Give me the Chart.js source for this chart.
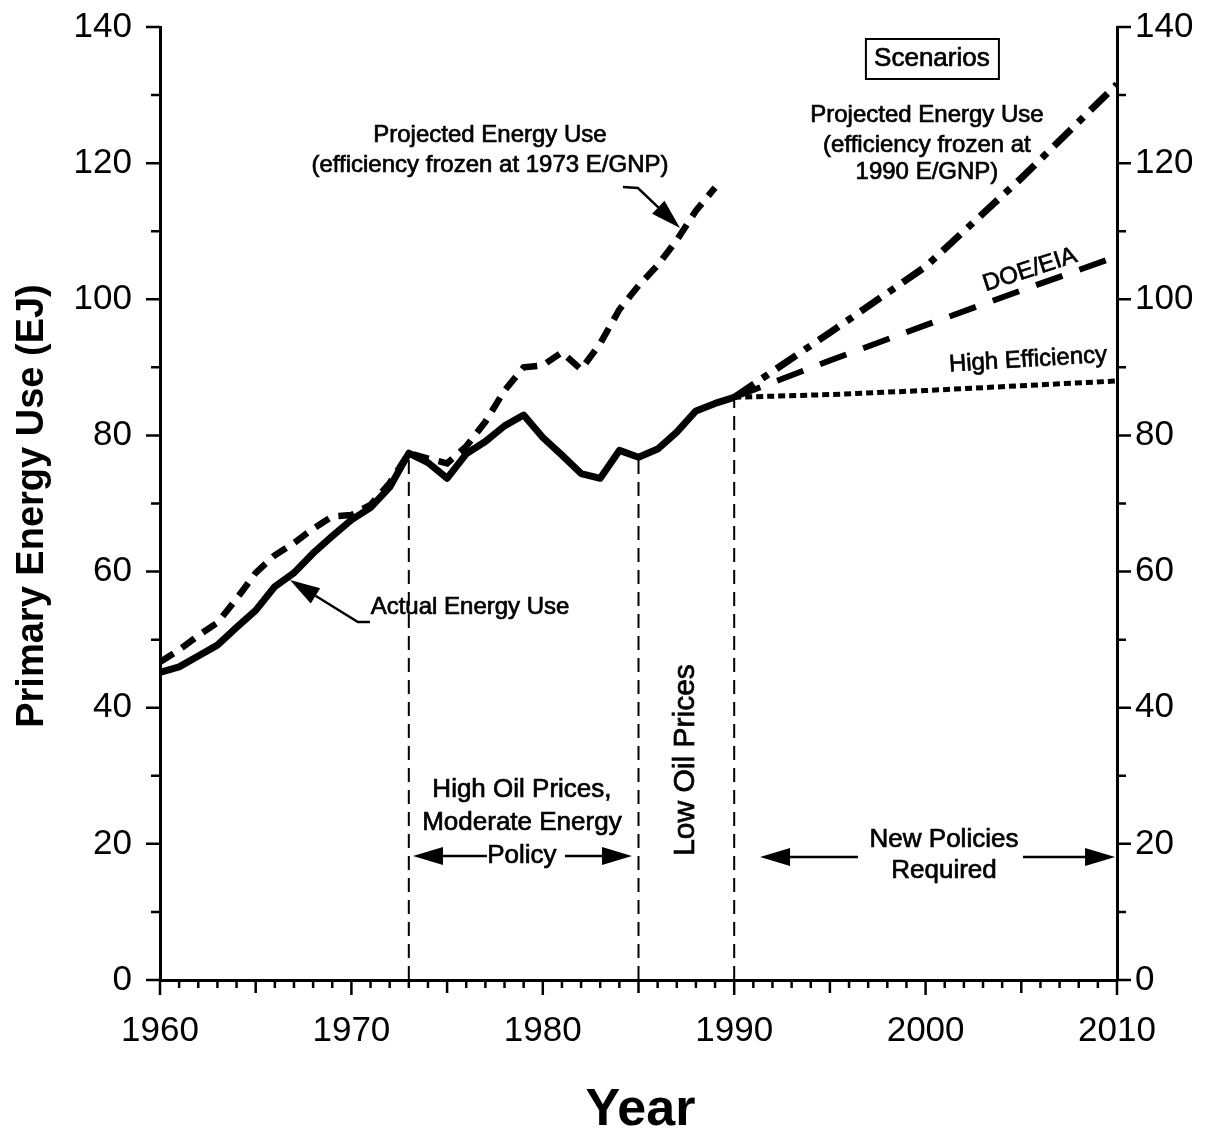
<!DOCTYPE html>
<html>
<head>
<meta charset="utf-8">
<script src="https://cdn.jsdelivr.net/npm/chart.js@4.4.1/dist/chart.umd.min.js"></script>
<style>
  html, body { margin: 0; padding: 0; background: #fff; }
  #wrap { width: 1222px; height: 1132px; position: relative; }
</style>
</head>
<body>
<div id="wrap"><canvas id="chart"></canvas></div>
<script>
// values (EJ)
const actualYears = [1960, 1961, 1962, 1963, 1964, 1965, 1966, 1967, 1968, 1969, 1970,
  1971, 1972, 1973, 1974, 1975, 1976, 1977, 1978, 1979, 1980,
  1981, 1982, 1983, 1984, 1985, 1986, 1987, 1988, 1989, 1990];
const actualUse = [45.2, 46.0, 47.6, 49.2, 51.8, 54.3, 57.8, 59.8, 62.7, 65.2, 67.6,
  69.4, 72.4, 77.4, 76.0, 73.7, 77.3, 79.1, 81.4, 83.0, 79.7,
  77.1, 74.4, 73.7, 77.8, 76.8, 78.0, 80.5, 83.6, 84.7, 85.6];

const frozen1973Years = [1960, 1961, 1962, 1963, 1964, 1965, 1966, 1967, 1968, 1969, 1970,
  1971, 1972, 1973, 1974, 1975, 1976, 1977, 1978, 1979, 1980,
  1981, 1982, 1983, 1984, 1985, 1986, 1987, 1988, 1989];
const frozen1973Use = [46.7, 48.5, 50.6, 52.5, 56.0, 59.8, 62.4, 64.2, 66.3, 68.1, 68.3,
  69.8, 73.0, 77.4, 76.6, 75.9, 78.4, 82.0, 86.6, 90.0, 90.3,
  92.2, 89.7, 93.5, 98.5, 102.0, 105.0, 108.7, 113.0, 116.4];

const scenarioYears = [1990, 1995, 2000, 2005, 2010];
const frozen1990Use = [85.6, 95.1, 104.8, 117.8, 131.6];
const doeEiaUse = [85.6, 91.0, 96.2, 101.3, 106.3];
const highEffUse = [85.6, 86.0, 86.6, 87.3, 88.0];

const periodYears = [1973, 1985, 1990];
const periodTops = [77.4, 76.8, 85.6];

const xTicks = [1960, 1970, 1980, 1990, 2000, 2010];
const yTicks = [0, 20, 40, 60, 80, 100, 120, 140];

const FONT = "'Liberation Sans', Arial, Helvetica, sans-serif";

function pts(xs, ys) {
  return xs.map((x, i) => ({ x: x, y: ys[i] }));
}

const datasets = [
  { label: 'Actual', data: pts(actualYears, actualUse), borderWidth: 7, borderJoinStyle: 'round' },
  { label: 'Frozen 1973', data: pts(frozen1973Years, frozen1973Use), borderWidth: 6.5, borderDash: [16, 10] },
  { label: 'Frozen 1990', data: pts(scenarioYears, frozen1990Use), borderWidth: 7, borderDash: [24, 10, 7, 10] },
  { label: 'DOE/EIA', data: pts(scenarioYears, doeEiaUse), borderWidth: 6, borderDash: [28, 18] },
  { label: 'High Efficiency', data: pts(scenarioYears, highEffUse), borderWidth: 5, borderDash: [7, 4] }
];
periodYears.forEach((yr, i) => {
  datasets.push({ label: 'period ' + yr, data: [{ x: yr, y: 0 }, { x: yr, y: periodTops[i] }],
    borderWidth: 2, borderDash: [14, 8] });
});
datasets.forEach(d => {
  d.borderColor = '#000';
  d.pointRadius = 0;
  d.tension = 0;
  d.fill = false;
  d.borderCapStyle = 'butt';
});

// text notes in data units
const notes = [
  { text: 'Projected Energy Use', x: 1977.24, y: 124.1, size: 24 },
  { text: '(efficiency frozen at 1973 E/GNP)', x: 1977.24, y: 119.7, size: 24 },
  { text: 'Projected Energy Use', x: 2000.07, y: 127.07, size: 24 },
  { text: '(efficiency frozen at', x: 2000.07, y: 122.67, size: 24 },
  { text: '1990 E/GNP)', x: 2000.07, y: 118.7, size: 24 },
  { text: 'Actual Energy Use', x: 1976.2, y: 54.8, size: 24 },
  { text: 'DOE/EIA', x: 2005.45, y: 104.3, size: 24, rot: -18 },
  { text: 'High Efficiency', x: 2005.35, y: 91.08, size: 24, rot: -3.5 },
  { text: 'High Oil Prices,', x: 1978.91, y: 27.91, size: 26 },
  { text: 'Moderate Energy', x: 1978.91, y: 23.06, size: 26 },
  { text: 'Policy', x: 1978.91, y: 18.22, size: 26 },
  { text: 'Low Oil Prices', x: 1987.48, y: 32.32, size: 30, rot: -90 },
  { text: 'New Policies', x: 2000.96, y: 20.57, size: 26 },
  { text: 'Required', x: 2000.96, y: 16.01, size: 26 }
];

const arrows = [
  [[1984.19, 116.5], [1984.97, 116.35], [1987.17, 110.47]],
  [[1970.97, 52.59], [1970.34, 52.59], [1966.79, 58.76]],
  [[1977.08, 18.22], [1973.22, 18.22]],
  [[1981.16, 18.22], [1984.66, 18.22]],
  [[1996.47, 18.07], [1991.35, 18.07]],
  [[2005.09, 18.07], [2009.9, 18.07]]
];

const decorPlugin = {
  id: 'decor',
  afterDraw(chart) {
    const ctx = chart.ctx;
    const xs = chart.scales.x;
    const ys = chart.scales.y;
    const area = chart.chartArea;
    ctx.save();
    ctx.strokeStyle = '#000';
    ctx.fillStyle = '#000';

    // tick marks: every year on x, every 10 on y
    ctx.lineWidth = 2.5;
    ctx.beginPath();
    for (let yr = 1960; yr <= 2010; yr++) {
      const px = xs.getPixelForValue(yr);
      const len = yr % 10 === 0 ? 15 : (yr % 5 === 0 ? 13 : 8);
      ctx.moveTo(px, area.bottom);
      ctx.lineTo(px, area.bottom + len);
    }
    for (let v = 0; v <= 140; v += 10) {
      const py = ys.getPixelForValue(v);
      const len = v % 20 === 0 ? 14 : 9;
      ctx.moveTo(area.left, py);
      ctx.lineTo(area.left - len, py);
      ctx.moveTo(area.right, py);
      ctx.lineTo(area.right + len, py);
    }
    ctx.stroke();

    // notes (thin stroke gives the heavier look of the printed text)
    ctx.textAlign = 'center';
    ctx.textBaseline = 'middle';
    ctx.lineWidth = 0.7;
    notes.forEach(n => {
      ctx.save();
      ctx.translate(xs.getPixelForValue(n.x), ys.getPixelForValue(n.y));
      if (n.rot) ctx.rotate(n.rot * Math.PI / 180);
      ctx.font = n.size + 'px ' + FONT;
      ctx.fillText(n.text, 0, 0);
      ctx.strokeText(n.text, 0, 0);
      ctx.restore();
    });

    // Scenarios box
    const bx = xs.getPixelForValue(2000.33);
    const by = ys.getPixelForValue(135.3);
    ctx.font = '26px ' + FONT;
    ctx.fillText('Scenarios', bx, by);
    ctx.strokeText('Scenarios', bx, by);
    ctx.lineWidth = 2;
    ctx.strokeRect(bx - 66, by - 20, 133, 40);

    // arrows
    arrows.forEach(a => {
      const p = a.map(q => [xs.getPixelForValue(q[0]), ys.getPixelForValue(q[1])]);
      const tip = p[p.length - 1];
      const prev = p[p.length - 2];
      const ang = Math.atan2(tip[1] - prev[1], tip[0] - prev[0]);
      const hl = 30, hw = 9;
      const base = [tip[0] - hl * Math.cos(ang), tip[1] - hl * Math.sin(ang)];
      ctx.lineWidth = 2.5;
      ctx.beginPath();
      ctx.moveTo(p[0][0], p[0][1]);
      for (let i = 1; i < p.length - 1; i++) ctx.lineTo(p[i][0], p[i][1]);
      ctx.lineTo(base[0], base[1]);
      ctx.stroke();
      ctx.beginPath();
      ctx.moveTo(tip[0], tip[1]);
      ctx.lineTo(base[0] + hw * Math.sin(ang), base[1] - hw * Math.cos(ang));
      ctx.lineTo(base[0] - hw * Math.sin(ang), base[1] + hw * Math.cos(ang));
      ctx.closePath();
      ctx.fill();
    });

    // axis titles
    ctx.font = 'bold 52px ' + FONT;
    ctx.fillText('Year', (area.left + area.right) / 2 + 2, 1111);
    ctx.save();
    ctx.translate(33, 506);
    ctx.rotate(-Math.PI / 2);
    ctx.font = 'bold 38px ' + FONT;
    ctx.fillText('Primary Energy Use (EJ)', 0, 0);
    ctx.restore();

    ctx.restore();
  }
};

const tickFont = { family: FONT, size: 35 };

function fixBox(s, w, h) {
  if (w) s.width = w;
  if (h) s.height = h;
  s.paddingTop = 0;
  s.paddingBottom = 0;
  s.paddingLeft = 0;
  s.paddingRight = 0;
}

new Chart(document.getElementById('chart'), {
  type: 'line',
  data: { datasets: datasets },
  options: {
    responsive: true,
    maintainAspectRatio: false,
    animation: false,
    layout: { padding: { top: 27, left: 0, right: 0, bottom: 0 } },
    plugins: { legend: { display: false }, tooltip: { enabled: false } },
    scales: {
      x: {
        type: 'linear', min: 1960, max: 2010,
        afterBuildTicks: s => { s.ticks = xTicks.map(v => ({ value: v })); },
        afterFit: s => fixBox(s, 0, 152),
        ticks: { font: tickFont, color: '#000', padding: 30, maxRotation: 0, callback: v => String(v) },
        grid: { display: false, drawTicks: false },
        border: { display: true, width: 3, color: '#000' }
      },
      y: {
        position: 'left', min: 0, max: 140,
        afterBuildTicks: s => { s.ticks = yTicks.map(v => ({ value: v })); },
        afterFit: s => fixBox(s, 160, 0),
        ticks: { font: tickFont, color: '#000', padding: 28 },
        grid: { display: false, drawTicks: false },
        border: { display: true, width: 3, color: '#000' }
      },
      y2: {
        position: 'right', min: 0, max: 140,
        afterBuildTicks: s => { s.ticks = yTicks.map(v => ({ value: v })); },
        afterFit: s => fixBox(s, 105, 0),
        ticks: { font: tickFont, color: '#000', padding: 18 },
        grid: { display: false, drawTicks: false },
        border: { display: true, width: 3, color: '#000' }
      }
    }
  },
  plugins: [decorPlugin]
});
</script>
</body>
</html>
